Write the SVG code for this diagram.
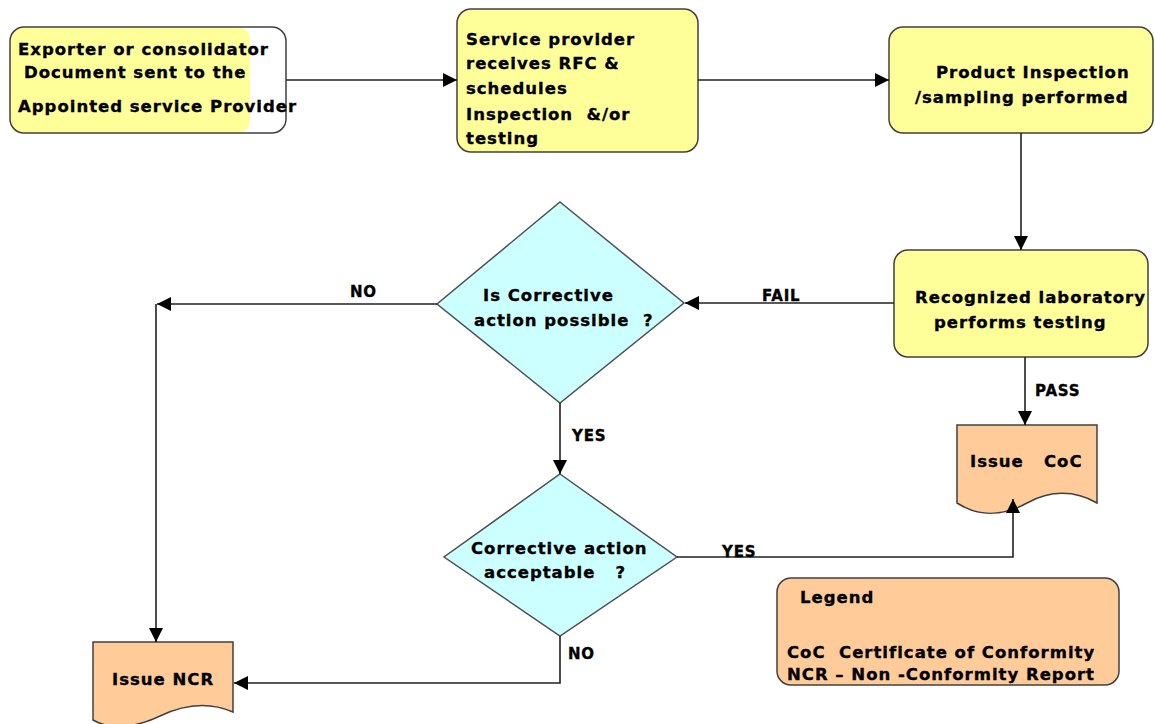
<svg xmlns="http://www.w3.org/2000/svg" width="1155" height="724" viewBox="0 0 1155 724" xml:space="preserve">
<style>
  text { font-family: "DejaVu Sans", Verdana, "Liberation Sans", sans-serif; font-weight: bold; font-size: 16.5px; letter-spacing: 1px; fill: #000; stroke: #000; stroke-width: 0.35px; white-space: pre; }
  .proc { fill: #FFFF99; stroke: #404040; stroke-width: 1.5; }
  .dec { fill: #CCFFFF; stroke: #505050; stroke-width: 1.5; }
  .doc { fill: #FFCC99; stroke: #404040; stroke-width: 1.5; }
  .conn { fill: none; stroke: #202020; stroke-width: 1.6; }
  .lbl { font-size: 15px; letter-spacing: 0.8px; }
</style>
<defs>
  <marker id="arr" markerUnits="userSpaceOnUse" markerWidth="16" markerHeight="14" refX="14" refY="7" orient="auto">
    <path d="M0,0 L14,7 L0,14 Z" fill="#000"/>
  </marker>
</defs>
<rect width="1155" height="724" fill="#fff"/>

<g id="node-exporter">
  <path d="M24,27 H236 Q250,27 250,41 V119 Q250,133 236,133 H24 Q10,133 10,119 V41 Q10,27 24,27 Z" fill="#FFFF99"/>
  <rect x="10" y="27" width="276" height="106" rx="14" fill="none" stroke="#404040" stroke-width="1.5"/>
  <text x="18" y="55">Exporter or consolidator</text>
  <text x="24" y="78">Document sent to the</text>
  <text x="18" y="112">Appointed service Provider</text>
</g>

<g id="node-service-provider">
  <rect class="proc" x="457" y="9" width="241" height="143" rx="14"/>
  <text x="466" y="45">Service provider</text>
  <text x="466" y="69">receives RFC &amp;</text>
  <text x="466" y="94">schedules</text>
  <text x="466" y="120">Inspection  &amp;/or</text>
  <text x="466" y="144">testing</text>
</g>

<g id="node-inspection">
  <rect class="proc" x="889" y="27" width="264" height="106" rx="14"/>
  <text x="936" y="78">Product Inspection</text>
  <text x="915" y="103">/sampling performed</text>
</g>

<g id="node-lab">
  <rect class="proc" x="894" y="250" width="254" height="107" rx="14"/>
  <text x="915" y="303">Recognized laboratory</text>
  <text x="934" y="328">performs testing</text>
</g>

<g id="node-decision1">
  <polygon class="dec" points="560,202 684,303 560,403 437,304"/>
  <text x="483" y="301">Is Corrective</text>
  <text x="474" y="326">action possible  ?</text>
</g>

<g id="node-decision2">
  <polygon class="dec" points="560,474 677,557 560,636 444,557"/>
  <text x="471" y="554">Corrective action</text>
  <text x="484" y="578">acceptable   ?</text>
</g>

<g id="node-coc">
  <path class="doc" d="M957,425 H1097 V503 C1075,490 1050,490 1027,503 C1005,515 980,518 957,503 Z"/>
  <text x="970" y="467">Issue   CoC</text>
</g>

<g id="node-ncr">
  <path class="doc" d="M93,642 H233 V712 C210,702 185,704 160,716 C135,728 110,730 93,720 Z"/>
  <text x="112" y="685">Issue NCR</text>
</g>

<g id="node-legend">
  <rect class="doc" x="777" y="578" width="342" height="107" rx="14"/>
  <text x="800" y="603">Legend</text>
  <text x="787" y="658">CoC  Certificate of Conformity</text>
  <text x="787" y="680">NCR – Non -Conformity Report</text>
</g>

<g id="connectors">
  <path class="conn" d="M286,80 H457" marker-end="url(#arr)"/>
  <path class="conn" d="M698,80 H889" marker-end="url(#arr)"/>
  <path class="conn" d="M1021,133 V250" marker-end="url(#arr)"/>
  <path class="conn" d="M894,303 H685" marker-end="url(#arr)"/>
  <path class="conn" d="M437,304 H157" marker-end="url(#arr)"/>
  <path class="conn" d="M156,304 V642" stroke-width="2.2" marker-end="url(#arr)"/>
  <path class="conn" d="M560,403 V474" marker-end="url(#arr)"/>
  <path class="conn" d="M677,557 H1013 V499" marker-end="url(#arr)"/>
  <path class="conn" d="M560,636 V683 H234" marker-end="url(#arr)"/>
  <path class="conn" d="M1025,357 V425" marker-end="url(#arr)"/>
  <text class="lbl" x="350" y="297">NO</text>
  <text class="lbl" x="762" y="301">FAIL</text>
  <text class="lbl" x="572" y="441">YES</text>
  <text class="lbl" x="722" y="557">YES</text>
  <text class="lbl" x="568" y="659">NO</text>
  <text class="lbl" x="1035" y="396">PASS</text>
</g>
</svg>
